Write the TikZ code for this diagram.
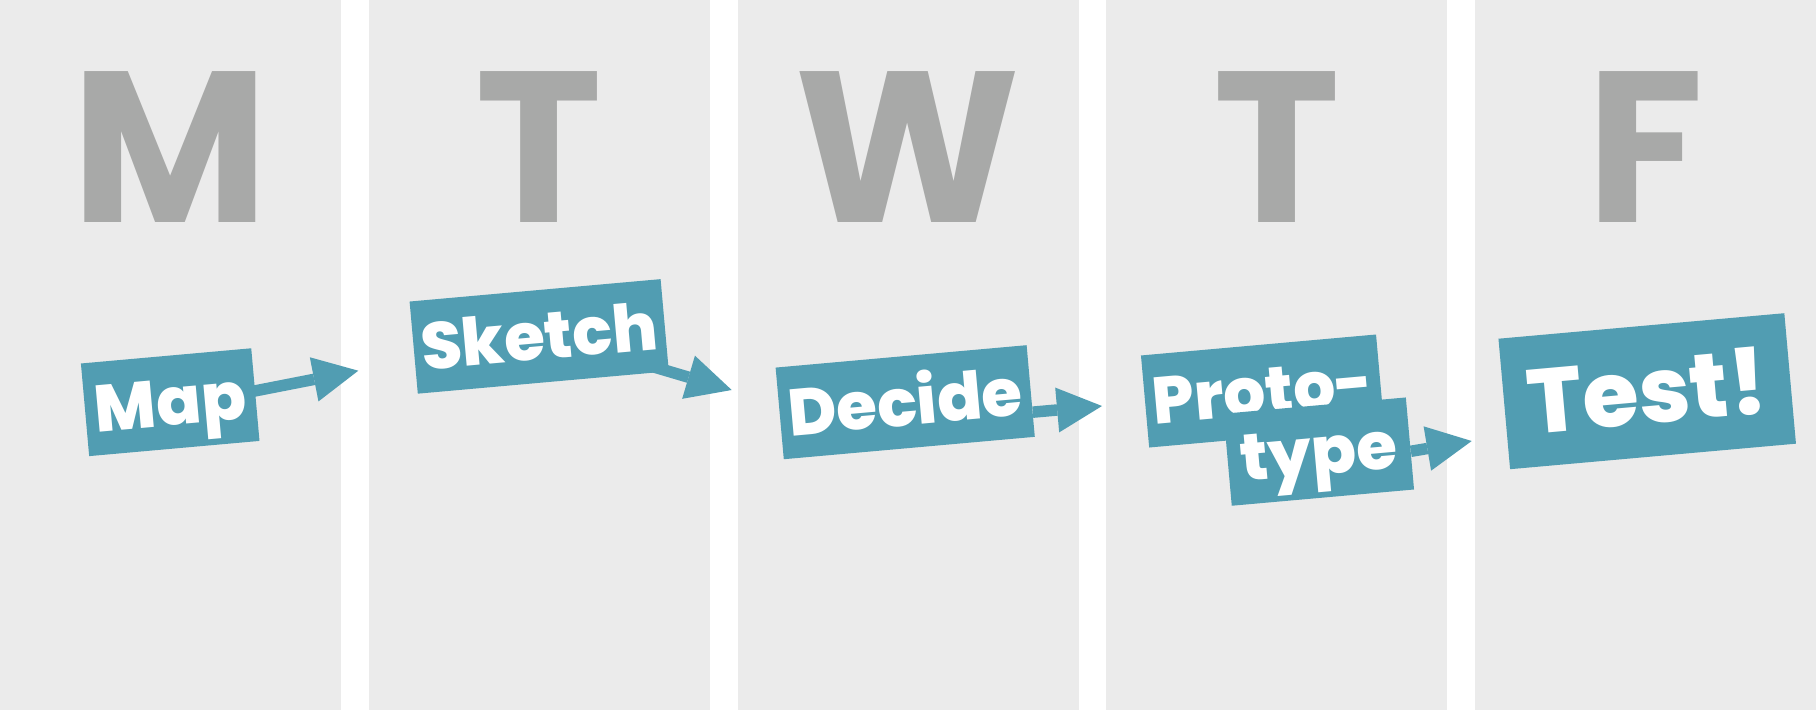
\documentclass[tikz,border=0pt]{standalone}
\usepackage{fontspec}
\setmainfont{Poppins}
\newfontfamily\stagefont{Poppins ExtraBold}
\usetikzlibrary{calc,arrows.meta}
\definecolor{stageteal}{HTML}{519DB2}
\definecolor{daygray}{HTML}{A8A9A8}
\definecolor{colgray}{HTML}{EBEBEB}

\begin{document}
\begin{tikzpicture}[x=1pt,y=-1pt,
        day/.style={anchor=base, text=daygray, font=\bfseries\fontsize{215}{215}\selectfont},
        stage/.style={fill=stageteal, text=white, rotate=5.1, inner sep=0pt, text height=47pt, text depth=0pt, font=\stagefont\fontsize{66}{66}\selectfont},
        flow/.style={draw=stageteal, line width=11.5pt, -{Triangle[length=45pt,width=45pt,line width=0pt]}}]
        \useasboundingbox (0,0) rectangle (1816,710);
        \fill[white] (0,0) rectangle (1816,710);
        \foreach \i/\l in {0/M,1/T,2/W,3/T,4/F} {
            \fill[colgray] (\i*368.75,0) rectangle ++(341,710);
            \node[day] (day\i) at (\i*368.75+170.5,222.8) {\l};
        }

        \node[stage, minimum width=171pt, minimum height=93pt] (map) at (170.2,402.2) {Map};
        \node[stage, minimum width=252pt, minimum height=92.5pt] (sketch) at (539.2,336.4) {Sketch};
        \node[stage, minimum width=252pt, minimum height=92pt] (decide) at (905.2,402.2) {Decide};
        \node[stage, minimum width=236pt, minimum height=92.4pt] (proto) at (1262.6,391.0) {Proto-};
        \node[stage, minimum width=183pt, minimum height=92.4pt] (type) at (1318.8,451.6) {type};
        \node[stage, minimum width=287pt, minimum height=131pt, text height=65pt, font=\stagefont\fontsize{91}{91}\selectfont] (test) at (1647.2,391.2) {Test!};

        \coordinate (mapTip) at (358.3,370.7);
        \coordinate (sketchTip) at (731.7,390);
        \coordinate (decideTip) at (1102,406);
        \coordinate (protoTip) at (1471.7,441);

        \draw[flow] ($(map.east)+(-4,-3)$) -- (mapTip);
        \draw[flow] ($(sketch.south east)!-22pt!(sketchTip)$) -- (sketchTip);
        \draw[flow] ($(decide.east)!0.46!(decide.south east)$) -- (decideTip);
        \draw[flow] ($(type.east)!0.17!(type.south east)$) -- (protoTip);
\end{tikzpicture}
\end{document}
